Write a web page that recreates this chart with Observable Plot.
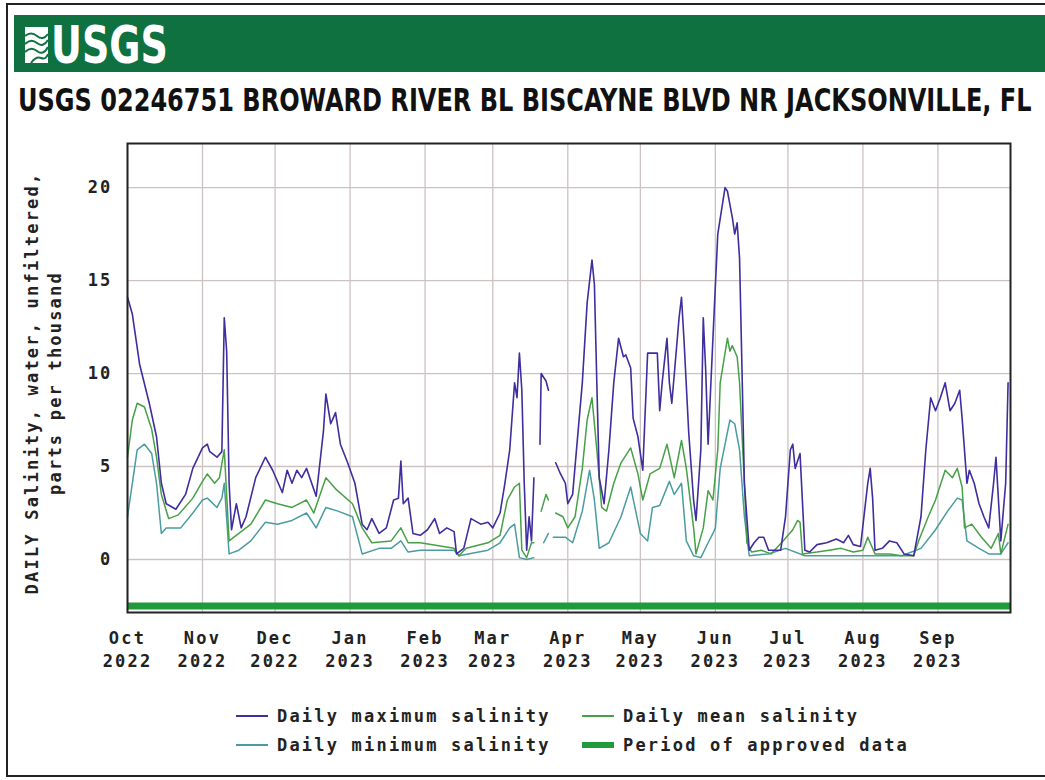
<!DOCTYPE html>
<html><head><meta charset="utf-8">
<script src="https://cdn.jsdelivr.net/npm/d3@7"></script>
<script src="https://cdn.jsdelivr.net/npm/@observablehq/plot@0.6"></script>
<style>
body{margin:0;background:#fff;}
#page{position:relative;width:1045px;height:780px;overflow:hidden;background:#fff;}
#chart{position:absolute;left:0;top:130px;}
.lg-text{position:absolute;font-family:"DejaVu Sans Mono",monospace;font-weight:bold;font-size:17px;letter-spacing:2.2px;line-height:20px;color:#222;white-space:nowrap;}
.lg-swatch{position:absolute;}
</style></head><body>
<div id="page">
<svg id="deco" width="1045" height="780" style="position:absolute;left:0;top:0">
  <rect x="7" y="4" width="1050" height="772" fill="none" stroke="#222" stroke-width="2"/>
  <rect x="14" y="15" width="1040" height="57" fill="#0f7040"/>
  <rect x="25" y="27" width="23" height="36" fill="#fff"/>
  <g fill="none" stroke="#0f7040" stroke-width="2">
    <path d="M25,36 q6,-5 12,0 t11,-2"/>
    <path d="M25,44 q6,-6 12,-1 t11,-3"/>
    <path d="M25,52 q6,-6 12,-1 t11,-4"/>
    <path d="M31,63 q5,-7 10,-5 t7,-4"/>
  </g>
  <g id="logoG"><text x="0" y="0" fill="#fff" font-family="'Liberation Sans Narrow','DejaVu Sans Condensed',sans-serif" font-weight="bold" font-size="52" id="logoText"></text></g>
  <g id="titleG"><text x="0" y="0" fill="#111" font-family="'Liberation Sans Narrow','DejaVu Sans Condensed',sans-serif" font-weight="bold" font-size="32" id="titleText"></text></g>
  <text id="yTitle" transform="translate(0,383) rotate(-90)" text-anchor="middle" font-family="'DejaVu Sans Mono',monospace" font-weight="bold" font-size="17" letter-spacing="2.2" fill="#222"></text>
</svg>
<div id="chart"></div>
<div id="legend"></div>
</div>
<script>
// ---- text ----
const logoLabel = "USGS";
const chartTitle = "USGS 02246751 BROWARD RIVER BL BISCAYNE BLVD NR JACKSONVILLE, FL";
const yTitleLines = ["DAILY Salinity, water, unfiltered,", "parts per thousand"];
const monthLabels = ["Oct","Nov","Dec","Jan","Feb","Mar","Apr","May","Jun","Jul","Aug","Sep"];
const yearLabels  = ["2022","2022","2022","2023","2023","2023","2023","2023","2023","2023","2023","2023"];
const yTicks = [0, 5, 10, 15, 20];
const legendLabels = ["Daily maximum salinity","Daily mean salinity","Daily minimum salinity","Period of approved data"];

// ---- data: day of water year (0 = 2022-10-01), salinity ppt; null = gap ----
const maxDays = [0,2,5,9,12,14,16,20,24,27,31,33,34,37,39,40,41,42,43,45,47,49,53,57,60,64,66,68,70,72,74,78,81,82,84,86,88,91,94,97,99,101,104,107,110,112,113,114,116,118,121,124,127,129,132,135,136,139,142,146,149,151,154,156,158,160,161,162,163,164,165,166,167,168,169.5,170.5,171,173,174,175.5,177,179,181,182,184,188,190,192,193,194,195,197,199,201,203,205,206,208,209,211,213,215,219,220,221,223,224,225,228,229,230,232,234,235,237,238,239,240,242,244,247,248,250,251,252,253,254,255,257,259,261,263,265,270,272,274,275,276,278,280,282,285,289,293,296,298,300,303,306,307,308,309,312,315,318,321,325,328,330,332,334,336,338,340,342,344,345,347,348,350,352,354,356,358,359,361,363,364];
const maxVals = [14.1,13.2,10.5,8.4,6.6,4.1,3.0,2.7,3.5,4.9,6.0,6.2,5.8,5.5,5.8,13.0,11.2,4.1,1.6,3.0,1.7,2.3,4.4,5.5,4.8,3.6,4.8,4.1,4.8,4.4,4.9,3.4,6.9,8.9,7.3,7.9,6.2,5.2,4.1,1.9,1.6,2.2,1.4,1.7,3.2,3.3,5.3,3.0,3.3,1.4,1.3,1.6,2.2,1.4,1.7,1.5,0.3,0.6,2.2,1.9,2.0,1.7,2.5,4.1,5.9,9.5,8.7,11.1,9.1,4.1,0.5,2.3,1.0,4.4,null,6.2,10.0,9.6,9.1,null,5.2,4.6,4.1,3.0,3.5,9.5,13.8,16.1,14.8,9.5,4.4,3.0,5.9,9.5,11.9,10.9,11.0,10.3,7.6,6.6,4.8,11.1,11.1,8.0,9.5,11.9,9.5,8.4,13.0,14.1,11.9,6.8,3.2,2.1,5.9,13.0,10.2,6.2,11.9,17.5,20.0,19.8,18.4,17.5,18.1,16.2,10.3,4.1,0.5,0.9,1.2,1.2,0.5,0.5,2.3,5.9,6.2,4.9,5.7,0.5,0.4,0.8,0.9,1.1,0.9,1.3,0.8,0.7,4.1,4.9,3.3,0.5,0.6,1.0,0.9,0.3,0.2,2.3,5.9,8.7,8.0,8.7,9.5,8.0,8.4,9.1,7.6,4.1,4.8,4.1,3.0,2.3,1.7,4.1,5.5,1.0,4.1,9.5];

const meanDays = [0,2,4,7,10,12,14,17,21,27,31,33,36,38,40,42,44,51,57,62,68,74,77,82,86,93,97,101,109,113,116,121,135,137,140,149,154,157,160,162,163,165,167,168,169.5,171,173,174,175.5,177,180,182,185,188,190,192,194,196,198,201,204,208,211,213,216,220,223,226,229,231,234,235,238,240,242,244,245,248,249,250,252,253,255,256,258,262,266,271,275,277,278,279,285,290,295,300,304,306,309,315,320,325,327,331,334,338,341,343,345,346,349,353,357,360,361,364];
const meanVals = [5.5,7.5,8.4,8.2,7.0,5.5,3.5,2.2,2.4,3.3,4.2,4.6,4.1,4.4,5.9,1.0,1.2,1.9,3.2,3.0,2.8,3.2,2.5,4.4,3.8,3.0,1.7,0.9,1.0,1.7,0.9,0.9,0.6,0.2,0.6,0.9,1.3,3.2,3.9,4.1,0.5,0.1,0.9,0.9,null,2.6,3.5,3.2,null,2.5,2.3,1.7,2.3,4.9,7.5,8.7,5.9,2.8,2.6,4.1,5.2,6.0,4.6,3.2,4.6,4.9,6.2,4.4,6.4,4.9,1.7,0.3,1.7,3.7,3.2,5.9,9.5,11.9,11.2,11.5,10.9,9.5,4.1,0.9,0.4,0.5,0.3,1.0,1.6,2.1,2.0,0.3,0.4,0.5,0.6,0.4,0.5,1.2,0.3,0.3,0.2,0.2,1.0,2.3,3.2,4.8,4.4,4.9,3.9,1.7,1.9,1.2,0.6,1.4,0.3,1.9];

const minDays = [0,4,7,10,12,14,16,22,27,31,33,37,39,40,42,46,51,57,62,68,74,78,82,87,93,97,104,109,113,116,121,135,137,149,154,158,160,162,165,168,170,172,174,175,176,181,184,188,191,193,195,199,204,208,212,215,217,220,224,226,229,231,234,237,240,242,243,245,249,251,253,255,257,265,272,280,300,320,328,334,339,343,345,347,352,356,361,364];
const minVals = [2.3,5.9,6.2,5.7,4.1,1.4,1.7,1.7,2.5,3.2,3.3,2.8,3.3,4.1,0.3,0.5,1.0,2.0,1.9,2.1,2.5,1.7,2.8,2.6,2.3,0.3,0.6,0.6,1.0,0.4,0.5,0.5,0.2,0.5,0.9,1.7,1.9,0.1,0.0,0.1,null,0.9,1.4,null,1.2,1.2,0.9,2.6,4.8,3.2,0.6,0.9,2.3,3.9,1.4,1.0,2.8,2.9,4.2,3.5,4.1,1.0,0.2,0.1,0.9,1.4,1.7,4.9,7.5,7.3,5.9,2.3,0.2,0.3,0.6,0.2,0.2,0.2,0.6,1.6,2.6,3.3,3.2,1.0,0.6,0.3,0.3,0.9];

const approvedStart = "2022-10-01";
const approvedEnd = "2023-10-01";

// ---- helpers ----
const day0 = Date.UTC(2022, 9, 1);
const toDate = d => new Date(day0 + d * 864e5);
const series = (days, vals) => days.map((d, i) => ({date: toDate(d), v: vals[i]}));
const maxData = series(maxDays, maxVals);
const meanData = series(meanDays, meanVals);
const minData = series(minDays, minVals);
const approved = [{date: new Date(approvedStart)}, {date: new Date(approvedEnd)}];
const tickDates = monthLabels.map((m, i) => new Date(Date.UTC(2022, 9 + i, 1)));

const colMax = "#3f2e9e", colMean = "#47a047", colMin = "#4a9ca0", colApproved = "#1f9b3c";
const grid = "#cdc2c2";

// fit a text horizontally into a box by scaling its group
function fitText(id, gid, label, x, y, w) {
  const t = document.getElementById(id);
  t.textContent = label;
  const nat = t.getComputedTextLength();
  document.getElementById(gid).setAttribute("transform", `translate(${x},${y}) scale(${w / nat},1)`);
}
fitText("logoText", "logoG", logoLabel, 51, 63, 117);
fitText("titleText", "titleG", chartTitle, 18, 111, 1014);

const yt = document.getElementById("yTitle");
yTitleLines.forEach((t, i) => {
  const ts = document.createElementNS("http://www.w3.org/2000/svg", "tspan");
  ts.setAttribute("x", 0);
  ts.setAttribute("y", i === 0 ? 38 : 61);
  ts.textContent = t;
  yt.appendChild(ts);
});

const chart = Plot.plot({
  width: 1045, height: 560,
  marginLeft: 127, marginRight: 35, marginTop: 13, marginBottom: 78,
  style: {fontFamily: '"DejaVu Sans Mono", monospace', fontSize: "17px", fontWeight: "bold", letterSpacing: "2.2px", color: "#222", background: "transparent", overflow: "visible"},
  x: {type: "utc", domain: [toDate(0), toDate(365)]},
  y: {domain: [-2.85, 22.37]},
  marks: [
    Plot.gridX(tickDates, {stroke: grid, strokeOpacity: 1, strokeWidth: 1.3}),
    Plot.gridY(yTicks, {stroke: grid, strokeOpacity: 1, strokeWidth: 1.3}),
    Plot.lineY(approved, {x: "date", y: () => -2.5, stroke: colApproved, strokeWidth: 7, strokeLinecap: "butt"}),
    Plot.line(minData, {x: "date", y: "v", stroke: colMin, strokeWidth: 1.5}),
    Plot.line(meanData, {x: "date", y: "v", stroke: colMean, strokeWidth: 1.5}),
    Plot.line(maxData, {x: "date", y: "v", stroke: colMax, strokeWidth: 1.6}),
    Plot.frame({stroke: "#222", strokeWidth: 2}),
    Plot.axisX(tickDates, {tickSize: 0, tickPadding: 14, lineHeight: 1.41, label: null,
      tickFormat: d => { const i = tickDates.findIndex(t => +t === +d); return monthLabels[i] + "\n" + yearLabels[i]; }}),
    Plot.axisY(yTicks, {tickSize: 0, tickPadding: 15, label: null})
  ]
});
document.getElementById("chart").appendChild(chart);

// ---- legend ----
const legendColors = [colMax, colMean, colMin, colApproved];
const legendPos = [[236, 716], [582, 716], [236, 745], [582, 745]];
const lg = document.getElementById("legend");
legendLabels.forEach((lab, i) => {
  const [x, y] = legendPos[i];
  const thick = i === 3 ? 6 : 2;
  const sw = document.createElement("div");
  sw.className = "lg-swatch";
  sw.style.cssText = `left:${x}px;top:${y - thick / 2}px;width:32px;height:${thick}px;background:${legendColors[i]}`;
  lg.appendChild(sw);
  const tx = document.createElement("div");
  tx.className = "lg-text";
  tx.style.left = (x + 41) + "px";
  tx.style.top = (y - 10) + "px";
  tx.textContent = lab;
  lg.appendChild(tx);
});
</script>
</body></html>
